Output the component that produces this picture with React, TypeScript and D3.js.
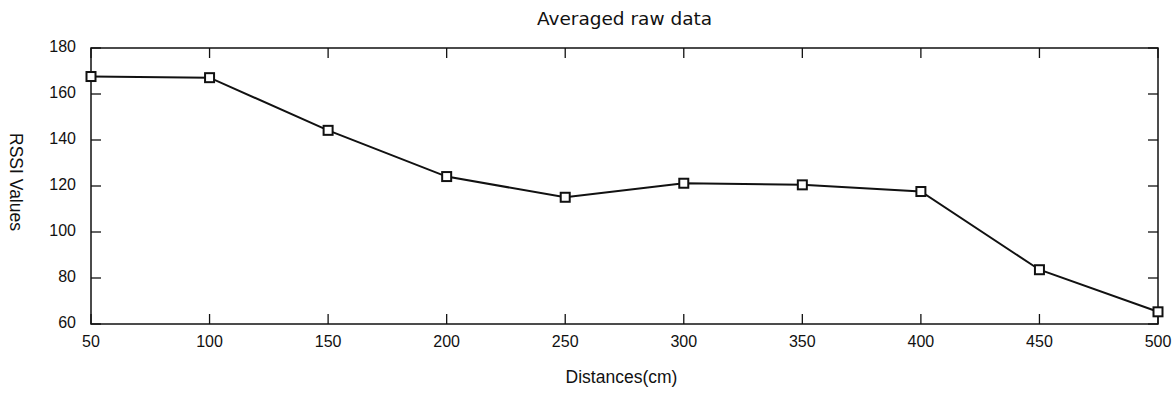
import React from 'react';
import * as d3 from 'd3';

// chart data
const distances = [50, 100, 150, 200, 250, 300, 350, 400, 450, 500];
const rssiValues = [167.6, 167.1, 144.2, 124.1, 115.1, 121.2, 120.5, 117.6, 83.6, 65.3];
const xTicks = [50, 100, 150, 200, 250, 300, 350, 400, 450, 500];
const yTicks = [60, 80, 100, 120, 140, 160, 180];

const W = 1173;
const H = 396;
const margin = { top: 48, right: 15, bottom: 72, left: 91 };
const font = "'Liberation Sans', Arial, sans-serif";
const titleFont = "'DejaVu Sans', sans-serif";

const App = () => {
  const width = W - margin.left - margin.right;
  const height = H - margin.top - margin.bottom;

  const x = d3.scaleLinear().domain([50, 500]).range([0, width]);
  const y = d3.scaleLinear().domain([60, 180]).range([height, 0]);

  const line = d3.line<number>()
    .x((_, i) => x(distances[i]))
    .y(d => y(d));

  const tickLen = 10;

  return (
    <svg width={W} height={H} style={{ position: 'fixed', left: 0, top: 0, background: '#fff' }}>
      <rect width={W} height={H} fill="#fff" />
      <text x={margin.left + width / 2} y={25} textAnchor="middle" fontSize={18.5} fontFamily={titleFont} fill="#111">
        Averaged raw data
      </text>
      <g transform={`translate(${margin.left},${margin.top})`}>
        {/* frame */}
        <rect width={width} height={height} fill="none" stroke="#111" strokeWidth={1.5} />

        {/* x ticks, bottom and top, pointing inward */}
        {xTicks.map(t => (
          <g key={`x-${t}`}>
            <line x1={x(t)} x2={x(t)} y1={height} y2={height - tickLen} stroke="#111" strokeWidth={1.3} />
            <line x1={x(t)} x2={x(t)} y1={0} y2={tickLen} stroke="#111" strokeWidth={1.3} />
            <text x={x(t)} y={height + 23} textAnchor="middle" fontSize={16} fontFamily={font} fill="#111">{t}</text>
          </g>
        ))}

        {/* y ticks, left and right */}
        {yTicks.map(t => (
          <g key={`y-${t}`}>
            <line x1={0} x2={tickLen} y1={y(t)} y2={y(t)} stroke="#111" strokeWidth={1.3} />
            <line x1={width} x2={width - tickLen} y1={y(t)} y2={y(t)} stroke="#111" strokeWidth={1.3} />
            <text x={-15} y={y(t) - 2} dy="0.35em" textAnchor="end" fontSize={16} fontFamily={font} fill="#111">{t}</text>
          </g>
        ))}

        {/* data line */}
        <path d={line(rssiValues) ?? ''} fill="none" stroke="#111" strokeWidth={2} />

        {/* markers */}
        {rssiValues.map((v, i) => (
          <rect
            key={`m-${i}`}
            x={x(distances[i]) - 4.5}
            y={y(v) - 4.5}
            width={9}
            height={9}
            fill="#fff"
            stroke="#111"
            strokeWidth={2}
          />
        ))}
      </g>

      <text x={margin.left + width / 2 - 3} y={383} textAnchor="middle" fontSize={17.5} fontFamily={font} fill="#111">
        Distances(cm)
      </text>
      <text
        transform={`translate(10,${margin.top + height / 2 - 4}) rotate(90)`}
        textAnchor="middle"
        fontSize={17.5}
        fontFamily={font}
        fill="#111"
      >
        RSSI Values
      </text>
    </svg>
  );
};

export default App;
